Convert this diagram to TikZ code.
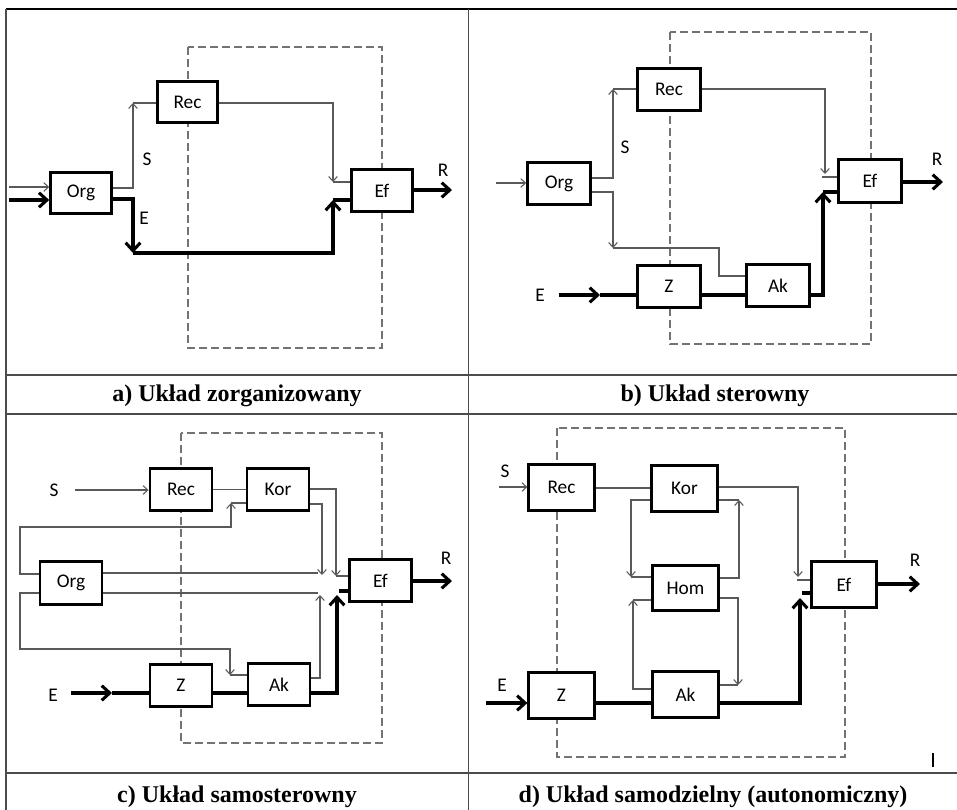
\documentclass[tikz,border=0pt]{standalone}
\usepackage{fontspec}
\setmainfont{Liberation Serif}
\newfontfamily\carl{Carlito}
\usetikzlibrary{arrows.meta}
\tikzset{
 box/.style={draw, fill=white, line width=2.2pt, inner sep=0pt, font=\carl\fontsize{14.5}{17}\selectfont},
 boxa/.style={box, minimum width=45.5pt, minimum height=31pt},
 boxb/.style={box, minimum width=47pt, minimum height=32pt},
 boxc/.style={box, minimum width=46.5pt, minimum height=32pt},
 boxd/.style={box, minimum width=49pt, minimum height=34pt},
 thinl/.style={draw=black!65, line width=0.8pt},
 thinar/.style={thinl, -{Straight Barb[length=3.5pt,width=6.5pt]}},
 thickl/.style={draw=black, line width=2.3pt},
 thickar/.style={thickl, -{Straight Barb[length=6pt,width=11pt]}},
 lbl/.style={font=\carl\fontsize{14.5}{17}\selectfont, inner sep=0pt},
 frame/.style={draw=black!55, line width=0.8pt, dash pattern=on 6pt off 3pt},
 captxt/.style={font=\fontsize{18}{21}\selectfont\bfseries, anchor=base, inner sep=0pt},
 gridl/.style={draw=black!70, line width=1.1pt},
}
\begin{document}
\begin{tikzpicture}[x=0.75pt,y=-0.75pt]
\useasboundingbox (0,0) rectangle (957,810);
% table
\draw[line width=1.6pt] (6,9) -- (957,9);
\draw[gridl] (6,9) -- (6,810);
\draw[gridl] (468.5,9) -- (468.5,810);
\draw[gridl] (6,375) -- (957,375);
\draw[gridl] (6,414) -- (957,414);
\draw[gridl] (6,773) -- (957,773);
% frames
\draw[frame] (188,47) rectangle (382,348);
\draw[frame] (670,32) rectangle (871,344);
\draw[frame] (181,433) rectangle (382,743);
\draw[frame] (557,428) rectangle (845,757);

% ---------- panel a ----------
\node[boxa] (aOrg) at (81,193) {Org};
\node[boxa] (aRec) at (187.5,102) {Rec};
\node[boxa] (aEf) at (382,190.5) {Ef};
\coordinate (aI1) at (9,187); \coordinate (aI2) at (9,200);
\draw[thinar] (aI1) -- (aI1 -| aOrg.west);
\draw[thickar] (aI2) -- (aI2 -| aOrg.west);
\coordinate (aS1) at (133,188); \coordinate (aS2) at (133,103);
\draw[thinar] (aOrg.east |- aS1) -- (aS1) -- (aS2);
\draw[thinl] (aS2) -- (aS2 -| aRec.west);
\coordinate (aR1) at (333,103); \coordinate (aR2) at (333,182);
\draw[thinar] (aRec.east |- aR1) -- (aR1) -- (aR2);
\draw[thinl] (aR2) -- (aR2 -| aEf.west);
\coordinate (aE1) at (133,199); \coordinate (aE2) at (133,253);
\coordinate (aE3) at (333,253); \coordinate (aE4) at (333,200);
\draw[thickar] (aOrg.east |- aE1) -- (aE1) -- (aE2);
\draw[thickar] (aE2) -- (aE3) -- (aE4);
\draw[thickl] (aE4) -- (aE4 -| aEf.west);
\coordinate (aRo) at (452,190);
\draw[thickar] (aEf.east |- aRo) -- (aRo);
\node[lbl] (aSl) at (147,159) {S};
\node[lbl] (aEl) at (144,218) {E};
\node[lbl] (aRl) at (443,170) {R};

% ---------- panel b ----------
\node[boxb] (bOrg) at (559,183.5) {Org};
\node[boxb] (bRec) at (669,89.5) {Rec};
\node[boxb] (bEf) at (870,181) {Ef};
\node[boxb] (bZ) at (669,286.5) {Z};
\node[boxb] (bAk) at (778,285.5) {Ak};
\coordinate (bI) at (496,183);
\draw[thinar] (bI) -- (bI -| bOrg.west);
\coordinate (bS1) at (613,178); \coordinate (bS2) at (613,89);
\draw[thinar] (bOrg.east |- bS1) -- (bS1) -- (bS2);
\draw[thinl] (bS2) -- (bS2 -| bRec.west);
\coordinate (bD1) at (613,192); \coordinate (bD2) at (613,248);
\coordinate (bD3) at (719,248); \coordinate (bD4) at (719,276);
\draw[thinar] (bOrg.east |- bD1) -- (bD1) -- (bD2);
\draw[thinl] (bD2) -- (bD3) -- (bD4) -- (bD4 -| bAk.west);
\coordinate (bR1) at (825,89); \coordinate (bR2) at (825,174);
\draw[thinar] (bRec.east |- bR1) -- (bR1) -- (bR2);
\coordinate (bR3) at (822,177);
\draw[thinl] (bR3) -- (bR3 -| bEf.west);
\coordinate (bE0) at (559,295); \coordinate (bE1) at (600,295);
\draw[thickar] (bE0) -- (bE1);
\draw[thickl] (bE1) -- (bE1 -| bZ.west);
\draw[thickl] (bZ.east |- bE0) -- (bAk.west |- bE0);
\coordinate (bA1) at (823,295); \coordinate (bA2) at (823,192);
\draw[thickar] (bAk.east |- bA1) -- (bA1) -- (bA2);
\draw[thickl] (bA2) -- (bA2 -| bEf.west);
\coordinate (bRo) at (943,182);
\draw[thickar] (bEf.east |- bRo) -- (bRo);
\node[lbl] (bSl) at (625,147) {S};
\node[lbl] (bEl) at (540,295) {E};
\node[lbl] (bRl) at (937,159) {R};

% ---------- panel c ----------
\node[boxc] (cRec) at (181,489.5) {Rec};
\node[boxc] (cKor) at (278,489.5) {Kor};
\node[boxc] (cOrg) at (71,583) {Org};
\node[boxc] (cEf) at (380.5,580.5) {Ef};
\node[boxc] (cZ) at (181,685.5) {Z};
\node[boxc] (cAk) at (279,684.5) {Ak};
\coordinate (cSi) at (75,490);
\draw[thinar] (cSi) -- (cSi -| cRec.west);
\draw[thinl] (cRec.east) -- (cKor.west);
\coordinate (cK1) at (336,489); \coordinate (cK2) at (336,576);
\draw[thinar] (cKor.east |- cK1) -- (cK1) -- (cK2);
\draw[thinl] (cK2) -- (cK2 -| cEf.west);
\coordinate (cK3) at (322,504); \coordinate (cK4) at (322,575);
\draw[thinar] (cKor.east |- cK3) -- (cK3) -- (cK4);
\coordinate (cO1) at (318,573);
\draw[thinl] (cOrg.east |- cO1) -- (cO1);
\coordinate (cO2) at (20,574); \coordinate (cO3) at (20,527);
\coordinate (cO4) at (231,527); \coordinate (cO5) at (231,503);
\draw[thinar] (cOrg.west |- cO2) -- (cO2) -- (cO3) -- (cO4) -- (cO5);
\draw[thinl] (cO5) -- (cO5 -| cKor.west);
\coordinate (cO6) at (20,593); \coordinate (cO7) at (20,649);
\coordinate (cO8) at (230,649); \coordinate (cO9) at (230,675);
\draw[thinar] (cOrg.west |- cO6) -- (cO6) -- (cO7) -- (cO8) -- (cO9);
\draw[thinl] (cO9) -- (cO9 -| cAk.west);
\coordinate (cO10) at (318,593);
\draw[thinl] (cOrg.east |- cO10) -- (cO10);
\coordinate (cA1) at (320,678); \coordinate (cA2) at (320,595);
\draw[thinar] (cAk.east |- cA1) -- (cA1) -- (cA2);
\coordinate (cA3) at (337,693); \coordinate (cA4) at (337,595);
\draw[thickar] (cAk.east |- cA3) -- (cA3) -- (cA4);
\coordinate (cA5) at (339,591);
\draw[thickl] (cA5) -- (cA5 -| cEf.west);
\coordinate (cE0) at (71,693); \coordinate (cE1) at (112,693);
\draw[thickar] (cE0) -- (cE1);
\draw[thickl] (cE1) -- (cE1 -| cZ.west);
\draw[thickl] (cZ.east |- cE0) -- (cAk.west |- cE0);
\coordinate (cRo) at (452,581);
\draw[thickar] (cEf.east |- cRo) -- (cRo);
\node[lbl] (cSl) at (54,490) {S};
\node[lbl] (cEl) at (53,695) {E};
\node[lbl] (cRl) at (446,558) {R};

% ---------- panel d ----------
\node[boxd] (dRec) at (561.5,487.5) {Rec};
\node[boxd] (dKor) at (684.5,488.5) {Kor};
\node[boxd] (dHom) at (685.5,588) {Hom};
\node[boxd] (dZ) at (561.5,695.5) {Z};
\node[boxd] (dAk) at (685.5,694.5) {Ak};
\node[boxd] (dEf) at (844,584.5) {Ef};
\coordinate (dSi) at (499,487);
\draw[thinar] (dSi) -- (dSi -| dRec.west);
\coordinate (dRK) at (600,488);
\draw[thinl] (dRec.east |- dRK) -- (dKor.west |- dRK);
\coordinate (dK1) at (798,487); \coordinate (dK2) at (798,577);
\draw[thinar] (dKor.east |- dK1) -- (dK1) -- (dK2);
\coordinate (dK3) at (797,580);
\draw[thinl] (dK3) -- (dK3 -| dEf.west);
\coordinate (dK4) at (631,500); \coordinate (dK5) at (631,577);
\draw[thinar] (dKor.west |- dK4) -- (dK4) -- (dK5);
\draw[thinl] (dK5) -- (dK5 -| dHom.west);
\coordinate (dH1) at (739,578); \coordinate (dH2) at (739,500);
\draw[thinar] (dHom.east |- dH1) -- (dH1) -- (dH2);
\draw[thinl] (dH2) -- (dH2 -| dKor.east);
\coordinate (dH3) at (738,598); \coordinate (dH4) at (738,685);
\draw[thinar] (dHom.east |- dH3) -- (dH3) -- (dH4);
\draw[thinl] (dH4) -- (dH4 -| dAk.east);
\coordinate (dA1) at (633,689); \coordinate (dA2) at (633,600);
\draw[thinar] (dAk.west |- dA1) -- (dA1) -- (dA2);
\draw[thinl] (dA2) -- (dA2 -| dHom.west);
\coordinate (dE0) at (486,703);
\draw[thickar] (dE0) -- (dE0 -| dZ.west);
\draw[thickl] (dZ.east |- dE0) -- (dAk.west |- dE0);
\coordinate (dA3) at (800,703); \coordinate (dA4) at (800,598);
\draw[thickar] (dAk.east |- dA3) -- (dA3) -- (dA4);
\coordinate (dA5) at (802,593);
\draw[thickl] (dA5) -- (dA5 -| dEf.west);
\coordinate (dRo) at (920,584);
\draw[thickar] (dEf.east |- dRo) -- (dRo);
\node[lbl] (dSl) at (505,471) {S};
\node[lbl] (dEl) at (502,685) {E};
\node[lbl] (dRl) at (915,560) {R};
\draw[line width=0.9pt] (933,753) -- (933,767);

% captions
\node[captxt] (capa) at (237,401.7) {a) Układ zorganizowany};
\node[captxt] (capb) at (715,401.7) {b) Układ sterowny};
\node[captxt] (capc) at (237,802) {c) Układ samosterowny};
\node[captxt] (capd) at (713,802) {d) Układ samodzielny (autonomiczny)};
\end{tikzpicture}
\end{document}
